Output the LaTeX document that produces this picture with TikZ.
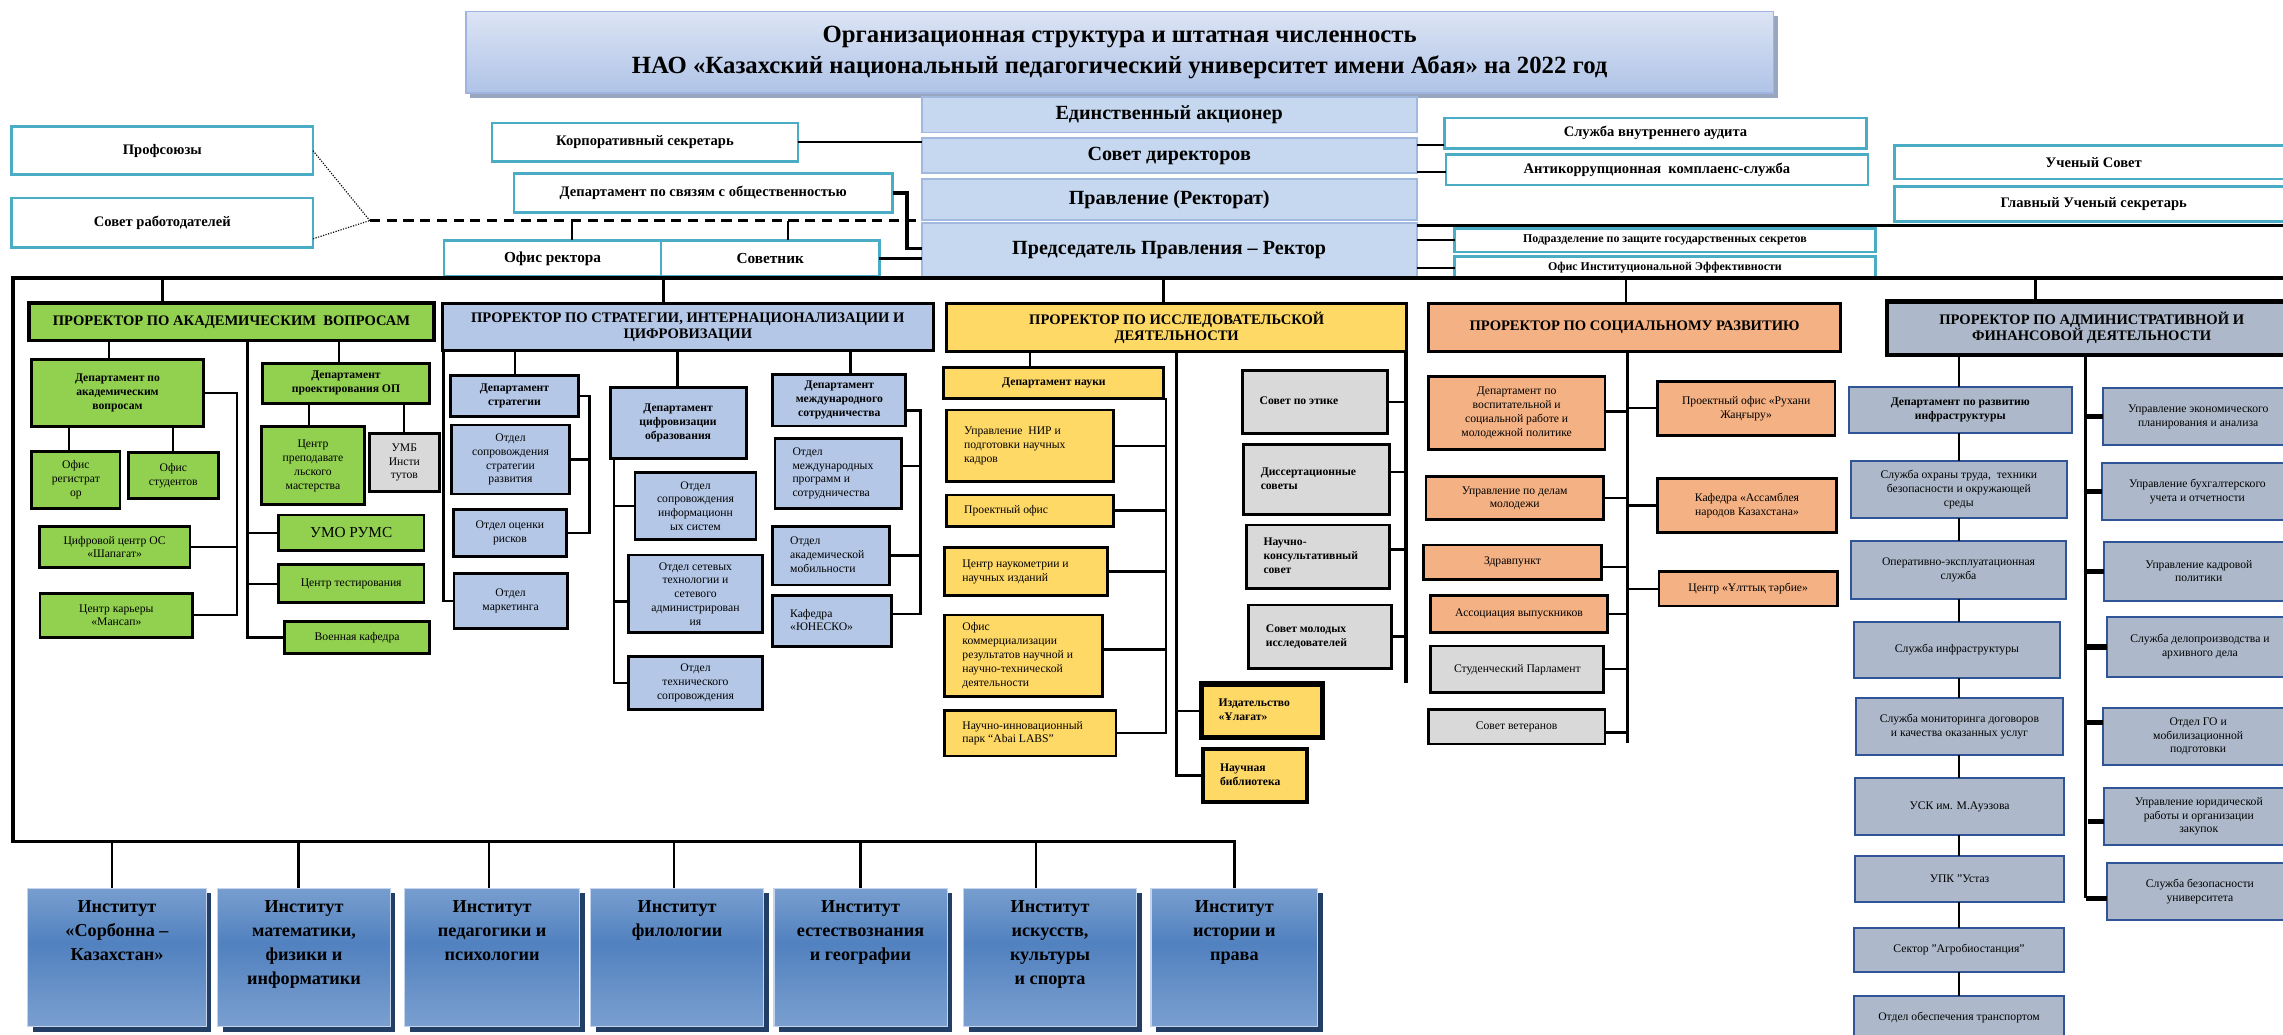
\documentclass[tikz,border=0pt]{standalone}
\usepackage{fontspec}
\setmainfont{Liberation Serif}
\usetikzlibrary{calc,shadows}
\definecolor{cgreen}{HTML}{92D050}
\definecolor{cblue}{HTML}{B4C7E7}
\definecolor{cyellow}{HTML}{FFD966}
\definecolor{corange}{HTML}{F4B183}
\definecolor{cgrey}{HTML}{D9D9D9}
\definecolor{cadmin}{HTML}{ADB9CA}
\definecolor{cadminb}{HTML}{2F5597}
\definecolor{cteal}{HTML}{4BACC6}
\definecolor{colfill}{HTML}{C6D8F0}
\definecolor{colborder}{HTML}{A2B9DF}
\definecolor{titleT}{HTML}{DCE4F4}
\definecolor{titleB}{HTML}{AFC3E7}
\definecolor{titleE}{HTML}{9FB4DE}
\definecolor{titleS}{HTML}{98A6C0}
\definecolor{instL}{HTML}{9DB9DE}
\definecolor{instD}{HTML}{5181BF}
\definecolor{instS}{HTML}{223E64}
\definecolor{instB}{HTML}{C3D4EC}
\pgfdeclareverticalshading{instsh}{100bp}{color(0bp)=(instL); color(55bp)=(instD); color(88bp)=(instL!85!instD); color(100bp)=(instL)}
\newcommand\bx[7]{\node[#2,minimum width={(#5-#3)*1pt},minimum height={(#6-#4)*1pt}] (#1) at ({(#3+#5)/2},{(#4+#6)/2}) {#7};}
\newcommand\bxl[7]{\pgfmathsetlengthmacro\bxw{(#5-#3-24)*1pt}\node[#2,minimum width={(#5-#3)*1pt},minimum height={(#6-#4)*1pt}] (#1) at ({(#3+#5)/2},{(#4+#6)/2}) {\makebox[\bxw][l]{\begin{tabular}{@{}l@{}}#7\end{tabular}}};}
\newcommand\inst[4]{\node[instbox,minimum width={(#3-#2)*1pt},minimum height=95pt] (#1) at ({(#2+#3)/2},657.5) {\parbox[c][78pt][t]{112pt}{\centering #4}};}
\begin{document}
\begin{tikzpicture}[x=1pt,y=-1pt,
 every node/.style={inner sep=0pt,outer sep=0pt},
 titlebox/.style={draw=titleE,line width=1pt,top color=titleT,bottom color=titleB,drop shadow={shadow xshift=3pt,shadow yshift=-3pt,fill=titleS,opacity=1},font=\fontsize{17}{21}\selectfont\bfseries,align=center},
 colbox/.style={draw=colborder,line width=1.2pt,fill=colfill,font=\fontsize{13.8}{15.5}\selectfont\bfseries,align=center},
 boxT/.style={draw=cteal,line width=1.8pt,fill=white,font=\fontsize{10}{12}\selectfont\bfseries,align=center},
 boxTs/.style={draw=cteal,line width=1.8pt,fill=white,font=\fontsize{8.2}{10}\selectfont\bfseries,align=center},
 prbase/.style={draw,line width=2.3pt,font=\fontsize{10}{11}\selectfont\bfseries,align=center},
 prG/.style={prbase,fill=cgreen},
 prB/.style={prbase,fill=cblue},
 prY/.style={prbase,fill=cyellow},
 prO/.style={prbase,fill=corange},
 prA/.style={prbase,fill=cadmin,line width=3pt},
 boxG/.style={draw,line width=2pt,fill=cgreen,align=center},
 boxB/.style={draw,line width=2pt,fill=cblue,align=center},
 boxY/.style={draw,line width=2pt,fill=cyellow,align=center},
 boxO/.style={draw,line width=2pt,fill=corange,align=center},
 boxGr/.style={draw,line width=2pt,fill=cgrey,align=center},
 boxA/.style={draw=cadminb,line width=1.5pt,fill=cadmin,align=center},
 sm/.style={font=\fontsize{8}{9.5}\selectfont},
 smb/.style={font=\fontsize{8}{9.5}\selectfont\bfseries},
 bigt/.style={font=\fontsize{10.5}{12}\selectfont},
 instbox/.style={draw=instB,line width=0.8pt,shade,shading=instsh,drop shadow={shadow xshift=3.5pt,shadow yshift=-3.5pt,fill=instS,opacity=1},font=\fontsize{12.5}{16.5}\selectfont\bfseries},
 conn/.style={line width=1.6pt},
 thickc/.style={line width=2.3pt},
 branchA/.style={line width=3.5pt},
 dotline/.style={line width=0.8pt,densely dotted},
 dashline/.style={line width=1.8pt,dash pattern=on 7pt off 4.5pt}]
\useasboundingbox (0,0) rectangle (1568,710.8);
\clip (0,0) rectangle (1568,710.8);
\fill[white] (0,0) rectangle (1568,710.8);

% ---------- title ----------
\bx{title}{titlebox}{320}{8}{1218}{64}{Организационная структура и штатная численность\\НАО «Казахский национальный педагогический университет имени Абая» на 2022 год}

% ---------- central column ----------
\bx{ea}{colbox}{633}{66.5}{973}{91}{Единственный акционер}
\bx{sd}{colbox}{633}{95}{973}{119}{Совет директоров}
\bx{pr}{colbox}{633}{123}{973}{151}{Правление (Ректорат)}
\bx{ch}{colbox}{633}{153}{973}{190}{Председатель Правления – Ректор}

% ---------- left upper ----------
\bx{prof}{boxT}{8}{87}{215}{120}{Профсоюзы}
\bx{sovrab}{boxT}{8}{136}{215}{170}{Совет работодателей}
\bx{korp}{boxT}{338}{84.5}{548}{111}{Корпоративный секретарь}
\bx{dsv}{boxT}{353}{119}{613}{146}{Департамент по связям с общественностью}
\bx{ofr}{boxT,font=\fontsize{10.5}{12}\selectfont\bfseries}{305}{165}{454}{190}{Офис ректора}
\bx{sov}{boxT,font=\fontsize{10.5}{12}\selectfont\bfseries}{454}{165}{604}{190}{Советник}

\coordinate (J) at (254,151.5);
\draw[dotline] (prof.east) -- (J);
\draw[dotline] (sovrab.east |- 0,164) -- (J);
\draw[dashline] (J) -- (J -| ch.west);
\draw[conn] (393,0 |- J) -- (393,0 |- ofr.north);
\draw[conn] (541,0 |- J) -- (541,0 |- sov.north);
\draw[conn] (korp.east) -- (korp.east -| sd.west);
\draw[thickc] (dsv.east) -- ++(10,0) |- (ch.west |- 0,170.5);
\draw[conn] (sov.east) -- (sov.east -| ch.west);

% ---------- right upper ----------
\bx{audit}{boxT}{992}{81}{1282}{102}{\raisebox{-2pt}{Служба внутреннего аудита}}
\bx{anti}{boxT}{993}{106}{1283}{127}{\raisebox{-2pt}{Антикоррупционная\ \ комплаенс-служба}}
\bx{uch}{boxT}{1301}{100}{1575}{123}{Ученый Совет}
\bx{gus}{boxT}{1301}{128}{1575}{152}{Главный Ученый секретарь}
\bx{sec}{boxTs}{999}{157}{1288}{173}{\raisebox{-3pt}{Подразделение по защите государственных секретов}}
\bx{oie}{boxTs}{999}{176}{1288}{191}{\raisebox{-3pt}{Офис Институциональной Эффективности}}
\coordinate (rEnd) at (1568,155);
\draw[conn] (sd.east |- 0,99.6) -- (audit.west |- 0,99.6);
\draw[conn] (sd.east |- 0,118) -- (anti.west |- 0,118);
\draw[thickc] (ch.east |- 0,155) -- (rEnd);
\draw[conn] (ch.east |- 0,165) -- (sec.west |- 0,165);
\draw[conn] (ch.east |- 0,184) -- (oie.west |- 0,184);

% ---------- main bus ----------
\coordinate (busL) at (9,191);
\coordinate (busR) at (1568,191);
\coordinate (busB) at (9,578);

% ---------- institutes ----------
\inst{i1}{19}{141.7}{Институт\\«Сорбонна –\\Казахстан»}
\inst{i2}{149.6}{268}{Институт\\математики,\\физики и\\информатики}
\inst{i3}{278}{398}{Институт\\педагогики и\\психологии}
\inst{i4}{405.5}{524.6}{Институт\\филологии}
\inst{i5}{531.6}{650.5}{Институт\\естествознания\\и географии}
\inst{i6}{661.7}{780.7}{Институт\\искусств,\\культуры\\и спорта}
\inst{i7}{790.5}{905}{Институт\\истории и\\права}
\draw[thickc] (busR) -- (busL) -- (busB) -- (i7.north |- busB) -- (i7.north);
\foreach \n/\xx in {i1/77,i2/205,i3/336,i4/463,i5/591,i6/711.5}
  \draw[conn] (\xx,0 |- busB) -- (\xx,0 |- \n.north);

% ---------- academic ----------
\bx{pa}{prG}{20}{208}{298}{234}{ПРОРЕКТОР ПО АКАДЕМИЧЕСКИМ\ \ ВОПРОСАМ}
\bx{dak}{boxG,smb}{21.8}{246.6}{139.6}{293}{Департамент по\\академическим\\вопросам}
\bx{ofreg}{boxG,sm}{21.8}{310.2}{82.4}{349}{Офис\\регистрат\\ор}
\bx{ofst}{boxG,sm}{88.1}{311}{150}{342.2}{Офис\\студентов}
\bx{cifr}{boxG,sm}{27}{361.7}{130.5}{389.6}{Цифровой центр ОС\\«Шапагат»}
\bx{kar}{boxG,sm}{27.5}{407.5}{132.3}{437.7}{Центр карьеры\\«Мансап»}
\bx{dpop}{boxG,smb}{180.4}{249.5}{294.9}{277}{Департамент\\проектирования ОП}
\bx{cpm}{boxG,sm}{179.7}{293}{250.2}{346.8}{Центр\\преподавате\\льского\\мастерства}
\bx{umb}{boxGr,sm}{253.7}{297.6}{301.7}{337.7}{УМБ\\Инсти\\тутов}
\bx{umo}{boxG,bigt}{191.2}{353.7}{291.2}{378.2}{УМО РУМС}
\bx{test}{boxG,sm}{191.2}{388}{291.2}{414}{Центр тестирования}
\bx{voen}{boxG,sm}{195.7}{427}{294.9}{448.7}{Военная кафедра}
\draw[conn] (111.7,0 |- busL) -- (111.7,0 |- pa.north);
\draw[conn] (75,0 |- pa.south) -- (75,0 |- dak.north);
\draw[conn] (47.6,0 |- dak.south) -- (47.6,0 |- ofreg.north);
\draw[conn] (118.6,0 |- dak.south) -- (118.6,0 |- ofst.north);
\draw[conn] (dak.east) -| (163,0 |- kar.east) -- (kar.east);
\draw[conn] (cifr.east) -- (163,0 |- cifr.east);
\draw[conn] (170,0 |- pa.south) |- (voen.west);
\draw[conn] (170,0 |- umo.west) -- (umo.west);
\draw[conn] (170,0 |- test.west) -- (test.west);
\draw[conn] (232.8,0 |- pa.south) -- (232.8,0 |- dpop.north);
\draw[conn] (212.4,0 |- dpop.south) -- (212.4,0 |- cpm.north);
\draw[conn] (277.5,0 |- dpop.south) -- (277.5,0 |- umb.north);

% ---------- strategy ----------
\bx{ps}{prB}{303.8}{208.3}{641}{240.8}{ПРОРЕКТОР ПО СТРАТЕГИИ, ИНТЕРНАЦИОНАЛИЗАЦИИ И\\ЦИФРОВИЗАЦИИ}
\bx{dstr}{boxB,smb}{309.5}{257.6}{397.2}{286.2}{Департамент\\стратегии}
\bx{osr}{boxB,sm}{310.2}{291.9}{391}{339.3}{Отдел\\сопровождения\\стратегии\\развития}
\bx{ork}{boxB,sm}{311.3}{349.8}{389.2}{381.9}{Отдел оценки\\рисков}
\bx{mark}{boxB,sm}{311.8}{393.8}{389.6}{431.5}{Отдел\\маркетинга}
\bx{dcif}{boxB,smb}{419}{266}{512.4}{314.8}{Департамент\\цифровизации\\образования}
\bx{osis}{boxB,sm}{436.1}{324.6}{519.2}{370.4}{Отдел\\сопровождения\\информационн\\ых систем}
\bx{oset}{boxB,sm}{431.5}{381.2}{523.8}{434.5}{Отдел сетевых\\технологии и\\сетевого\\администрирован\\ия}
\bx{otex}{boxB,sm}{431.5}{451}{523.8}{487}{Отдел\\технического\\сопровождения}
\bx{dmez}{boxB,smb}{530.7}{256.9}{622.2}{292.6}{Департамент\\международного\\сотрудничества}
\bxl{omp}{boxB,sm}{532.3}{301}{619.3}{349.1}{Отдел\\международных\\программ и\\сотрудничества}
\bxl{oam}{boxB,sm}{530.7}{361.3}{610.8}{401.8}{Отдел\\академической\\мобильности}
\bxl{unesco}{boxB,sm}{530.7}{409.3}{612.4}{444.1}{Кафедра\\«ЮНЕСКО»}
\draw[conn] (455.6,0 |- busL) -- (455.6,0 |- ps.north);
\draw[conn] (304.5,0 |- ps.south) |- (mark.west);
\draw[conn] (353.7,0 |- ps.south) -- (353.7,0 |- dstr.north);
\draw[conn] (dstr.east) -| (404.8,0 |- ork.east) -- (ork.east);
\draw[conn] (osr.east) -- (404.8,0 |- osr.east);
\draw[conn] (465.2,0 |- ps.south) -- (465.2,0 |- dcif.north);
\draw[conn] (421.9,0 |- dcif.south) |- (otex.west);
\draw[conn] (421.9,0 |- osis.west) -- (osis.west);
\draw[conn] (421.9,413.2) -- (oset.west |- 0,413.2);
\draw[conn] (584.2,0 |- ps.south) -- (584.2,0 |- dmez.north);
\draw[conn] (dmez.east |- 0,282) -| (632.3,421.7) -- (unesco.east |- 0,421.7);
\draw[conn] (omp.east |- 0,320) -- (632.3,320);
\draw[conn] (oam.east) -- (632.3,0 |- oam.east);

% ---------- research ----------
\bx{pi}{prY}{650.2}{208.3}{966.1}{241.5}{ПРОРЕКТОР ПО ИССЛЕДОВАТЕЛЬСКОЙ\\ДЕЯТЕЛЬНОСТИ}
\bx{dn}{boxY,smb}{648.3}{252.3}{799.4}{273.6}{Департамент науки}
\bxl{nir}{boxY,sm}{650.2}{281.6}{764.6}{330.8}{Управление\ \ НИР и\\подготовки научных\\кадров}
\bxl{po}{boxY,sm}{650.2}{340}{764.6}{361.3}{Проектный офис}
\bxl{cn}{boxY,sm}{649}{375.9}{760.5}{409.3}{Центр наукометрии и\\научных изданий}
\bxl{ok}{boxY,sm}{649}{422.4}{757.3}{478.5}{Офис\\коммерциализации\\результатов научной и\\научно-технической\\деятельности}
\bxl{park}{boxY,sm}{649}{488.1}{766.5}{519.2}{Научно-инновационный\\парк “Abai LABS”}
\bxl{izd}{boxY,smb,line width=3.5pt}{824.9}{469.8}{908.4}{506.4}{Издательство\\«Ұлағат»}
\bxl{lib}{boxY,smb,line width=2.8pt}{826}{514.6}{897.9}{550.6}{Научная\\библиотека}
\bxl{etika}{boxGr,smb}{853.2}{254.6}{952.8}{297.6}{Совет по этике}
\bxl{diss}{boxGr,smb}{853.9}{305.6}{954.2}{353.2}{Диссертационные\\советы}
\bxl{nks}{boxGr,smb}{855.8}{360.6}{954.2}{404}{Научно-\\консультативный\\совет}
\bxl{smi}{boxGr,smb}{857.4}{415.5}{955.8}{459}{Совет молодых\\исследователей}
\draw[conn] (799,0 |- busL) -- (799,0 |- pi.north);
\draw[conn] (707.4,0 |- pi.south) -- (707.4,0 |- dn.north);
\draw[conn] (800.8,0 |- dn.south) |- (park.east);
\draw[conn] (nir.east) -- (800.8,0 |- nir.east);
\draw[conn] (po.east) -- (800.8,0 |- po.east);
\draw[conn] (cn.east) -- (800.8,0 |- cn.east);
\draw[conn] (ok.east |- 0,446) -- (800.8,446);
\draw[conn] (808.1,0 |- pi.south) |- (lib.west);
\draw[conn] (808.1,0 |- izd.west) -- (izd.west);
\draw[thickc] (965.6,0 |- pi.south) -- (965.6,468.9);
\draw[conn] (etika.east) -- (965.6,0 |- etika.east);
\draw[conn] (diss.east |- 0,324) -- (965.6,324);
\draw[conn] (nks.east |- 0,377.3) -- (965.6,377.3);
\draw[conn] (smi.east) -- (965.6,0 |- smi.east);

% ---------- social ----------
\bx{psr}{prO}{981}{208.3}{1264.2}{241.5}{ПРОРЕКТОР ПО СОЦИАЛЬНОМУ РАЗВИТИЮ}
\bx{dvs}{boxO,sm}{981}{258.7}{1102.3}{308.6}{Департамент по\\воспитательной и\\социальной работе и\\молодежной политике}
\bx{udm}{boxO,sm}{979.4}{327.4}{1101.2}{357.1}{Управление по делам\\молодежи}
\bx{zdr}{boxO,sm}{977.5}{374.3}{1100}{397.9}{Здравпункт}
\bx{asv}{boxO,sm}{982.6}{409.3}{1103.9}{434.5}{Ассоциация выпускников}
\bx{stp}{boxGr,sm}{982.6}{443.7}{1101.6}{475.7}{\raisebox{-3pt}{Студенческий Парламент}}
\bx{svet}{boxGr,sm}{981}{487.2}{1102.3}{511}{Совет ветеранов}
\bx{ruh}{boxO,sm}{1138.3}{262.1}{1260.3}{298.8}{Проектный офис «Рухани\\Жаңғыру»}
\bx{kaf}{boxO,sm}{1138.3}{328.5}{1261.4}{365.9}{Кафедра «Ассамблея\\народов Казахстана»}
\bx{ult}{boxO,sm}{1139.4}{392.6}{1261.9}{416.2}{Центр «Ұлттық тәрбие»}
\draw[conn] (1116.8,0 |- busL) -- (1116.8,0 |- psr.north);
\draw[thickc] (1117.6,0 |- psr.south) -- (1117.6,510.5);
\draw[conn] (dvs.east |- 0,282.7) -- (1117.6,282.7);
\draw[conn] (udm.east) -- (1117.6,0 |- udm.east);
\draw[conn] (zdr.east |- 0,389.2) -- (1117.6,389.2);
\draw[conn] (asv.east) -- (1117.6,0 |- asv.east);
\draw[conn] (stp.east) -- (1117.6,0 |- stp.east);
\draw[conn] (svet.east |- 0,503.2) -- (1117.6,503.2);
\draw[conn] (1117.6,0 |- ruh.west) -- (ruh.west);
\draw[conn] (1117.6,0 |- kaf.west) -- (kaf.west);
\draw[conn] (1117.6,0 |- ult.west) -- (ult.west);

% ---------- administrative ----------
\bx{pad}{prA}{1296.2}{207.2}{1577}{243.8}{ПРОРЕКТОР ПО АДМИНИСТРАТИВНОЙ И\\ФИНАНСОВОЙ ДЕЯТЕЛЬНОСТИ}
\bx{dri}{boxA,smb}{1269.9}{266}{1422.8}{297.6}{Департамент по развитию\\инфраструктуры}
\bx{sot}{boxA,sm}{1271.3}{316.6}{1419.4}{356}{Служба охраны труда,\ \ техники\\безопасности и окружающей\\среды}
\bx{oes}{boxA,sm}{1271.3}{371.6}{1419}{411.6}{Оперативно-эксплуатационная\\служба}
\bx{sinf}{boxA,sm}{1273.3}{427}{1414.8}{465.9}{Служба инфраструктуры}
\bx{smon}{boxA,sm}{1274.5}{479.6}{1417}{518.5}{Служба мониторинга договоров\\и качества оказанных услуг}
\bx{usk}{boxA,sm}{1274}{534.5}{1417.7}{573.5}{УСК им. М.Ауэзова}
\bx{upk}{boxA,sm}{1274}{587.9}{1417.7}{619.3}{УПК "Устаз}
\bx{agro}{boxA,sm}{1273.3}{637.6}{1417.7}{667.4}{Сектор "Агробиостанция"}
\bx{otr}{boxA,sm}{1273.3}{684}{1417.7}{714}{Отдел обеспечения транспортом}
\bx{uep}{boxA,sm}{1444.5}{266.7}{1575}{305.6}{Управление экономического\\планирования и анализа}
\bx{ubu}{boxA,sm}{1443.4}{318.2}{1575}{357.1}{Управление бухгалтерского\\учета и отчетности}
\bx{ukp}{boxA,sm}{1445.3}{372}{1575}{412.5}{Управление кадровой\\политики}
\bx{sdd}{boxA,sm}{1446.9}{424}{1575}{464.7}{Служба делопроизводства и\\архивного дела}
\bx{ogo}{boxA,sm}{1444.5}{486}{1575}{525.4}{Отдел ГО и\\мобилизационной\\подготовки}
\bx{uyur}{boxA,sm}{1445.3}{541}{1575}{580.3}{Управление юридической\\работы и организации\\закупок}
\bx{sbu}{boxA,sm}{1446.9}{592.5}{1575}{631.9}{Служба безопасности\\университета}
\draw[conn] (1398.1,0 |- busL) -- (1398.1,0 |- pad.north);
\draw[conn] (1345.5,0 |- pad.south) -- (1345.5,0 |- dri.north);
\foreach \a/\b in {dri/sot,sot/oes,oes/sinf,sinf/smon,smon/usk,usk/upk,upk/agro,agro/otr}
  \draw[conn] (1345.5,0 |- \a.south) -- (1345.5,0 |- \b.north);
\draw[thickc] (1432.5,0 |- pad.south) -- (1432.5,617);
\draw[branchA] (1432.5,617) -- (sbu.west |- 0,617);
\draw[branchA] (1432.5,0 |- uep.west) -- (uep.west);
\draw[branchA] (1432.5,0 |- ubu.west) -- (ubu.west);
\draw[branchA] (1432.5,0 |- ukp.west) -- (ukp.west);
\draw[branchA] (1432.5,0 |- sdd.west) -- (sdd.west);
\draw[branchA] (1432.5,496.3) -- (ogo.west |- 0,496.3);
\draw[branchA] (1434,564.3) -- (uyur.west |- 0,564.3);
\end{tikzpicture}
\end{document}
